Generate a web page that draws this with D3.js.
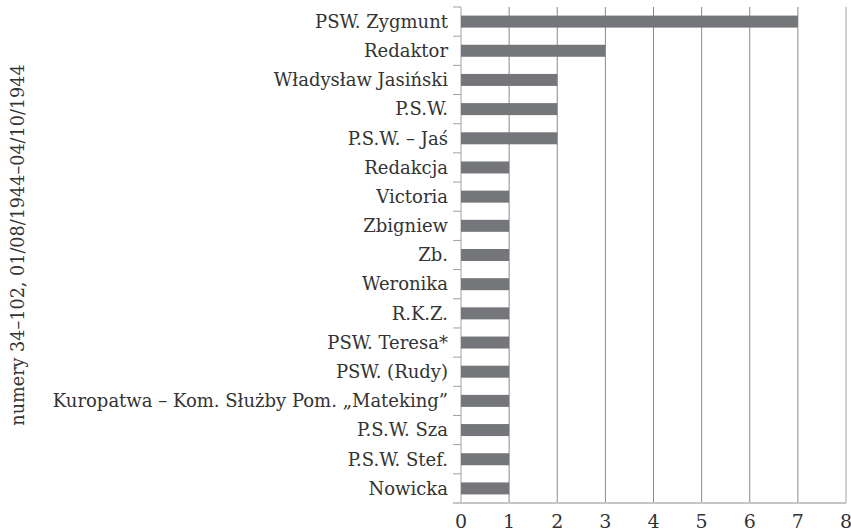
<!DOCTYPE html>
<html><head><meta charset="utf-8">
<script src="https://cdn.jsdelivr.net/npm/d3@7"></script>
<style>body{margin:0;background:#fff}svg{display:block}</style>
</head><body>
<script>
const categories = ["PSW. Zygmunt","Redaktor","Władysław Jasiński","P.S.W.","P.S.W. – Jaś","Redakcja","Victoria","Zbigniew","Zb.","Weronika","R.K.Z.","PSW. Teresa*","PSW. (Rudy)","Kuropatwa – Kom. Służby Pom. „Mateking”","P.S.W. Sza","P.S.W. Stef.","Nowicka"];
const values = [7,3,2,2,2,1,1,1,1,1,1,1,1,1,1,1,1];
const xTicks = [0,1,2,3,4,5,6,7,8];
const yTitle = "numery 34–102, 01/08/1944–04/10/1944";

const W = 851, H = 532;
const font = "'DejaVu Serif', serif";
const svg = d3.select("body").append("svg").attr("width", W).attr("height", H);
const x = d3.scaleLinear().domain([0, 8]).range([461, 846]);
const y = d3.scaleBand().domain(categories).range([7, 503]);
const bandH = y.step();

// gridlines
svg.append("g").selectAll("line").data(xTicks).join("line")
  .attr("x1", d => x(d)).attr("x2", d => x(d))
  .attr("y1", 7).attr("y2", 503)
  .attr("stroke", d => (d === 0 || d === 8) ? "#c6c6c6" : "#8a8a8a")
  .attr("stroke-width", d => (d === 0 || d === 8) ? 1.6 : 1);

// y ticks at band boundaries
const bounds = categories.map(c => y(c)).concat([y.range()[1]]);
svg.append("g").selectAll("line").data(bounds).join("line")
  .attr("x1", 453).attr("x2", 461)
  .attr("y1", d => d).attr("y2", d => d)
  .attr("stroke", "#a0a0a0").attr("stroke-width", 1);

// bars
svg.append("g").selectAll("rect").data(categories).join("rect")
  .attr("x", x(0)).attr("width", (d, i) => x(values[i]) - x(0))
  .attr("y", d => y(d) + (bandH - 12) / 2)
  .attr("height", 12)
  .attr("fill", "#757679");

// bottom axis line
svg.append("line").attr("x1", 453).attr("x2", 846).attr("y1", 503).attr("y2", 503)
  .attr("stroke", "#c6c6c6").attr("stroke-width", 2);

// category labels
svg.append("g").selectAll("text").data(categories).join("text")
  .attr("x", 448).attr("y", d => y(d) + bandH / 2)
  .attr("dy", "0.35em").attr("text-anchor", "end")
  .attr("font-family", font).attr("font-size", 18).attr("fill", "#333")
  .text(d => d);

// x tick labels
svg.append("g").selectAll("text").data(xTicks).join("text")
  .attr("x", d => x(d)).attr("y", 521).attr("dy", "0.35em")
  .attr("text-anchor", "middle")
  .attr("font-family", font).attr("font-size", 19).attr("fill", "#333")
  .text(d => d);

// y title
svg.append("text")
  .attr("transform", "translate(18,245) rotate(-90)")
  .attr("dy", "0.35em").attr("text-anchor", "middle")
  .attr("font-family", font).attr("font-size", 17.6).attr("fill", "#333")
  .text(yTitle);
</script>
</body></html>
